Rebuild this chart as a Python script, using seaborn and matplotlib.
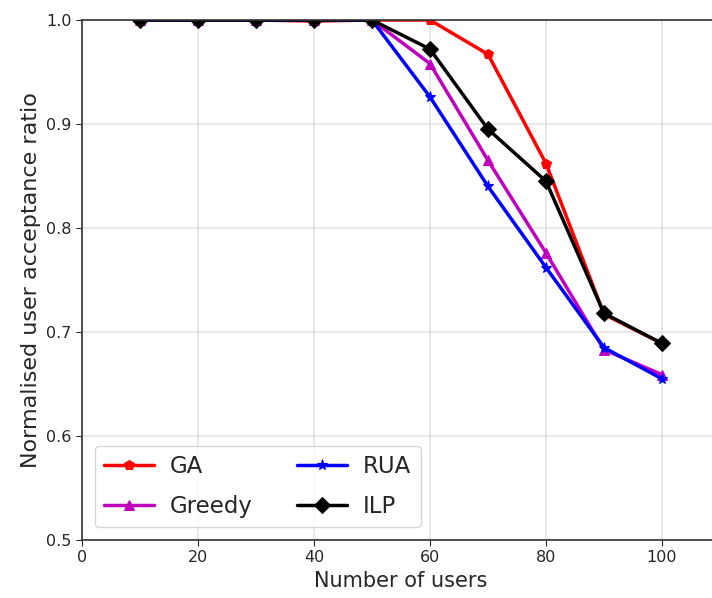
import matplotlib
matplotlib.use("Agg")
import matplotlib.pyplot as plt
import seaborn as sns
import pandas as pd

users = [10, 20, 30, 40, 50, 60, 70, 80, 90, 100]
ga = [1.0, 1.0, 1.0, 0.999, 1.0, 1.0, 0.967, 0.862, 0.717, 0.689]
greedy = [1.0, 1.0, 1.0, 1.0, 1.0, 0.958, 0.865, 0.776, 0.683, 0.659]
rua = [1.0, 1.0, 1.0, 1.0, 1.0, 0.926, 0.840, 0.762, 0.685, 0.655]
ilp = [1.0, 1.0, 1.0, 1.0, 1.0, 0.972, 0.895, 0.845, 0.718, 0.689]

series = {"GA": ga, "Greedy": greedy, "RUA": rua, "ILP": ilp}
styles = {
    "GA": dict(color="red", marker="p", markersize=7),
    "Greedy": dict(color="m", marker="^", markersize=7),
    "RUA": dict(color="blue", marker="*", markersize=8),
    "ILP": dict(color="black", marker="D", markersize=8),
}

sns.set_style("ticks")
fig = plt.figure(figsize=(7.12, 5.98), dpi=100)
ax = fig.add_axes([82 / 712, 58 / 598, 638 / 712, 520 / 598])

for name, vals in series.items():
    df = pd.DataFrame({"users": users, "ratio": vals})
    st = styles[name]
    sns.lineplot(data=df, x="users", y="ratio", ax=ax, label=name,
                 color=st["color"], marker=st["marker"], markersize=st["markersize"],
                 markeredgecolor=st["color"], linewidth=2.5)

# markers sitting on the top edge are cut off by the axes frame
for line in ax.lines:
    line.set_clip_on(True)
    line.set_clip_path(ax.patch)

ax.set_xlim(0, 110)
ax.set_ylim(0.5, 1.0)
ax.set_xticks([0, 20, 40, 60, 80, 100])
ax.set_yticks([0.5, 0.6, 0.7, 0.8, 0.9, 1.0])
ax.grid(True, color="#d9d9d9", linewidth=1.2, alpha=0.7)
ax.tick_params(labelsize=11.5, length=4)
ax.set_xlabel("Number of users", fontsize=15)
ax.set_ylabel("Normalised user acceptance ratio", fontsize=16)
for s in ax.spines.values():
    s.set_linewidth(1.2)
    s.set_color("#333333")
ax.legend(loc="lower left", ncol=2, fontsize=16.5, frameon=True, columnspacing=1.9,
          handlelength=2.2, handletextpad=0.7, labelspacing=0.75, borderaxespad=0.55)

fig.savefig("out.png", dpi=100)
